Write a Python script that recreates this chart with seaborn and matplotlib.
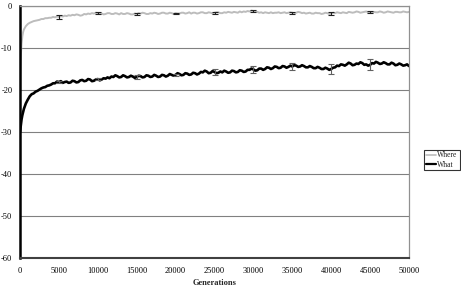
import matplotlib
matplotlib.use("Agg")
import matplotlib.pyplot as plt
from matplotlib.lines import Line2D
import seaborn as sns
import pandas as pd

generations = [0, 100, 200, 300, 400] + list(range(500, 50001, 250))

where_vals = [
    -17.0, -12.0, -9.0, -7.2, -6.2,
    -5.6, -4.8, -4.3, -4.0, -3.8, -3.6, -3.5, -3.4, -3.3, -3.1, -3.1, -2.9, -2.9, -2.8, -2.8, -2.6, -2.7, -2.5, -2.6,
    -2.4, -2.5, -2.3, -2.4, -2.2, -2.3, -2.1, -2.2, -2.0, -2.1, -2.3, -2.2, -1.9, -2.0, -1.8, -1.9, -1.7, -1.8, -1.6, -1.7,
    -1.9, -1.8, -2.0, -1.9, -1.7, -1.7, -1.9, -1.9, -1.7, -1.8, -2.0, -1.7, -1.9, -1.9, -1.7, -1.8, -2.0, -2.0, -1.8, -1.9,
    -1.7, -1.8, -1.6, -1.7, -1.9, -1.9, -1.7, -1.8, -1.6, -1.7, -1.9, -1.8, -1.6, -1.6, -1.8, -1.8, -1.6, -1.7, -1.9, -1.7,
    -1.8, -1.8, -1.6, -1.6, -1.8, -1.7, -1.5, -1.8, -1.6, -1.6, -1.8, -1.7, -1.5, -1.5, -1.7, -1.7, -1.5, -1.6, -1.8, -1.6,
    -1.5, -1.5, -1.7, -1.7, -1.5, -1.6, -1.4, -1.5, -1.6, -1.4, -1.5, -1.6, -1.3, -1.5, -1.3, -1.4, -1.2, -1.3, -1.1, -1.2,
    -1.3, -1.4, -1.6, -1.5, -1.7, -1.5, -1.6, -1.7, -1.5, -1.7, -1.6, -1.6, -1.5, -1.7, -1.6, -1.5, -1.7, -1.6, -1.5, -1.6,
    -1.7, -1.6, -1.4, -1.5, -1.7, -1.6, -1.8, -1.7, -1.6, -1.8, -1.8, -1.6, -1.7, -1.7, -1.9, -1.8, -1.6, -1.7, -1.9, -1.8,
    -1.6, -1.7, -1.5, -1.6, -1.7, -1.5, -1.6, -1.7, -1.4, -1.5, -1.6, -1.5, -1.3, -1.4, -1.6, -1.5, -1.4, -1.3, -1.5, -1.5,
    -1.6, -1.4, -1.5, -1.5, -1.3, -1.4, -1.6, -1.5, -1.3, -1.4, -1.5, -1.6, -1.4, -1.4, -1.5, -1.5, -1.3, -1.4, -1.5, -1.4,
]

what_vals = [
    -30.0, -28.5, -27.0, -26.0, -25.2,
    -24.5, -23.2, -22.3, -21.5, -21.0, -20.8, -20.4, -20.2, -19.9, -19.6, -19.4, -19.3, -19.0, -18.9, -18.7, -18.4, -18.4, -18.0, -18.1,
    -17.9, -18.3, -18.1, -18.0, -18.3, -18.2, -17.8, -17.9, -18.2, -18.1, -17.7, -17.6, -17.9, -17.8, -17.4, -17.5, -17.9, -17.8, -17.5, -17.4,
    -17.7, -17.5, -17.2, -17.3, -17.0, -17.2, -16.8, -16.9, -16.5, -16.7, -17.0, -16.9, -16.5, -16.7, -17.0, -16.9, -16.6, -16.8, -17.1, -16.9,
    -16.6, -16.7, -17.0, -16.9, -16.5, -16.6, -16.9, -16.8, -16.4, -16.6, -16.9, -16.8, -16.4, -16.5, -16.8, -16.6, -16.2, -16.4, -16.6, -16.4,
    -16.0, -16.2, -16.5, -16.4, -16.0, -16.1, -16.4, -16.3, -15.9, -16.0, -16.3, -16.1, -15.7, -15.8, -15.4, -15.6, -16.0, -15.9, -15.5, -15.7,
    -16.0, -15.9, -15.6, -15.8, -15.4, -15.6, -15.9, -15.8, -15.4, -15.5, -15.8, -15.7, -15.3, -15.4, -15.7, -15.6, -15.2, -15.2, -14.9, -15.1,
    -15.4, -15.3, -14.9, -14.9, -15.2, -15.0, -14.6, -14.7, -15.0, -14.8, -14.4, -14.5, -14.8, -14.7, -14.3, -14.4, -14.7, -14.5, -14.2, -14.4,
    -14.1, -14.2, -14.5, -14.4, -14.1, -14.3, -14.6, -14.6, -14.3, -14.5, -14.8, -14.8, -14.5, -14.7, -15.0, -15.0, -14.7, -14.9, -15.2, -15.0,
    -14.7, -14.6, -14.2, -14.3, -13.9, -14.0, -14.2, -13.9, -13.5, -13.7, -14.1, -14.0, -13.7, -13.8, -13.4, -13.6, -14.0, -13.9, -14.2, -14.0,
    -13.6, -13.7, -13.3, -13.5, -13.8, -13.7, -13.4, -13.6, -13.9, -13.9, -13.5, -13.7, -14.1, -14.0, -13.7, -13.9, -14.2, -14.1, -13.9, -14.3,
]

err_x = [5000, 10000, 15000, 20000, 25000, 30000, 35000, 40000, 45000]
where_err_y = [-2.6, -1.7, -1.9, -1.8, -1.7, -1.2, -1.6, -1.8, -1.5]
where_err = [0.5, 0.2, 0.3, 0.2, 0.2, 0.2, 0.2, 0.3, 0.2]
what_err_y = [-18.1, -17.4, -16.9, -16.4, -15.7, -15.1, -14.4, -15.0, -14.0]
what_err = [0.3, 0.2, 0.4, 0.3, 0.7, 0.9, 0.9, 1.1, 1.3]

series_names = ["Where", "What"]
x_ticks = list(range(0, 50001, 5000))
y_ticks = [0, -10, -20, -30, -40, -50, -60]

df = pd.DataFrame({
    "Generations": generations * 2,
    "value": where_vals + what_vals,
    "series": [series_names[0]] * len(generations) + [series_names[1]] * len(generations),
})

sns.set_theme(style="white")
plt.rcParams["font.family"] = ["Liberation Serif", "DejaVu Serif"]

fig = plt.figure(figsize=(4.61, 2.86), dpi=100)
ax = fig.add_axes([20 / 461, 1 - 258 / 286, 389 / 461, 252 / 286])

sns.lineplot(data=df, x="Generations", y="value", hue="series",
             palette={"Where": "#bcbcbc", "What": "#000000"},
             ax=ax, legend=False, estimator=None, sort=False)
for line, lw in zip(ax.lines, [1.4, 1.9]):
    line.set_linewidth(lw)

ax.errorbar(err_x, where_err_y, yerr=where_err, fmt="none", ecolor="#202020",
            elinewidth=0.8, capsize=2, capthick=0.8, zorder=5)
ax.errorbar(err_x, what_err_y, yerr=what_err, fmt="none", ecolor="#606060",
            elinewidth=0.8, capsize=2, capthick=0.8, zorder=5)

ax.set_xlim(0, 50000)
ax.set_ylim(-60, 0)
ax.set_xticks(x_ticks)
ax.set_yticks(y_ticks)
ax.set_xticklabels([str(t) for t in x_ticks])
ax.set_yticklabels([str(t) for t in y_ticks])
ax.tick_params(axis="both", labelsize=6, length=3, width=0.8, direction="inout",
               color="#404040", pad=4, labelcolor="#000000")
ax.tick_params(axis="x", pad=5)
ax.yaxis.grid(True, color="#808080", linewidth=0.8)
ax.xaxis.grid(False)
ax.set_axisbelow(True)

ax.spines["left"].set_color("#000000")
ax.spines["left"].set_linewidth(1.8)
ax.spines["bottom"].set_color("#404040")
ax.spines["bottom"].set_linewidth(1.5)
for s in ["top", "right"]:
    ax.spines[s].set_color("#909090")
    ax.spines[s].set_linewidth(0.9)

ax.set_xlabel("Generations", fontsize=6, fontweight="bold", labelpad=3)
ax.set_ylabel("")

handles = [Line2D([], [], color="#bcbcbc", lw=1.2), Line2D([], [], color="#000000", lw=1.6)]
leg = fig.legend(handles, series_names, loc="center left",
                 bbox_to_anchor=(424 / 461, 1 - 160 / 286), fontsize=5.5,
                 frameon=True, fancybox=False, edgecolor="#000000",
                 handlelength=1.3, handletextpad=0.2, borderpad=0.25,
                 labelspacing=0.15, borderaxespad=0)
leg.get_frame().set_linewidth(0.8)

fig.savefig("out.png", dpi=100)
